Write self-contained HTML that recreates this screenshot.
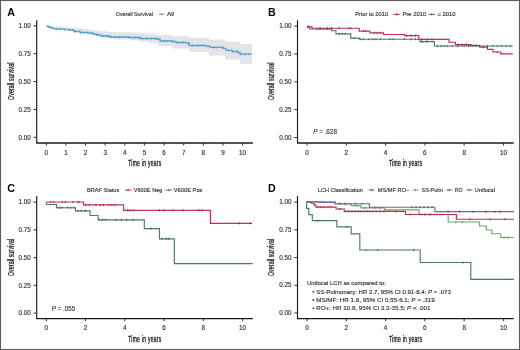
<!DOCTYPE html>
<html><head><meta charset="utf-8"><style>
html,body{margin:0;padding:0;background:#fff;}
body{width:520px;height:350px;overflow:hidden;}
svg{display:block;font-family:"Liberation Sans", sans-serif;will-change:transform;}
</style></head><body>
<svg width="520" height="350" viewBox="0 0 520 350">
<rect x="0" y="0" width="520" height="350" fill="#fff"/>
<path d="M46.3,25.8 H52 V26.3 H60 V26.8 H68 V27.6 H75 V28.3 H82 V29 H88 V29.8 H94 V30.6 H100 V31.3 H108 V31.9 H115 V32.3 H130 V32.8 H140 V33.2 H150 V33.7 H156 V34.7 H172 V36.2 H189 V37.8 H209 V39.6 H225 V41.7 H240 V43.9 H252.2 V43.9 L252.2,63.7 V63.7 H240 V59.6 H225 V55.5 H209 V52 H189 V48.4 H172 V45.9 H158 V43.3 H150 V41.8 H140 V40.5 H130 V39.5 H115 V38.8 H108 V37.8 H100 V36.2 H94 V34.5 H88 V33.2 H82 V32 H75 V31 H68 V30 H60 V29 H56 V27.5 H50 V25.8 H46.3 Z" fill="#e3e3e8"/>
<path d="M46.3,26 H48 V27 H50 V27.8 H53 V28.6 H56 V29.2 H64 V29.7 H70 V30.2 H74 V31.5 H80 V32.5 H88 V33 H93 V34 H97 V35 H101 V36 H110 V37 H129 V37.5 H140 V38.5 H157 V39 H160 V41 H172 V41.5 H176 V42.5 H186 V43 H189 V45.5 H206 V46.2 H210 V47.4 H223 V48.3 H226 V50.4 H232 V51.5 H238 V52.5 H240 V54.2 H252" fill="none" stroke="#55a5cf" stroke-width="1.3"/>
<path d="M49.0,26.00 V28.00 M52.3,26.80 V28.80 M56.7,28.20 V30.20 M60.5,28.20 V30.20 M65.1,28.70 V30.70 M69.8,28.70 V30.70 M72.6,29.20 V31.20 M75.1,30.50 V32.50 M80.5,31.50 V33.50 M84.0,31.50 V33.50 M87.3,31.50 V33.50 M93.3,33.00 V35.00 M97.4,34.00 V36.00 M102.8,35.00 V37.00 M107.0,35.00 V37.00 M111.7,36.00 V38.00 M114.8,36.00 V38.00 M119.5,36.00 V38.00 M125.0,36.00 V38.00 M129.4,36.50 V38.50 M134.4,36.50 V38.50 M139.3,36.50 V38.50 M142.0,37.50 V39.50 M147.2,37.50 V39.50 M151.7,37.50 V39.50 M155.3,37.50 V39.50 M157.9,38.00 V40.00 M163.4,40.00 V42.00 M167.6,40.00 V42.00 M172.6,40.50 V42.50 M178.2,41.50 V43.50 M183.2,41.50 V43.50 M188.9,42.00 V44.00 M192.8,44.50 V46.50 M198.1,44.50 V46.50 M202.1,44.50 V46.50 M207.9,45.20 V47.20 M213.5,46.40 V48.40 M216.3,46.40 V48.40 M219.3,46.40 V48.40 M222.6,46.40 V48.40 M228.5,49.40 V51.40 M232.5,50.50 V52.50 M237.2,50.50 V52.50 M240.7,53.20 V55.20 M245.0,53.20 V55.20 M248.9,53.20 V55.20" stroke="#4590bb" stroke-width="0.7" fill="none"/>
<g transform="translate(0,0)">
<text x="7.2" y="15.9" font-size="10.7" font-weight="bold" fill="#000">A</text>
<path d="M36.7,20.3 V143.0" fill="none" stroke="#1a1a1a" stroke-width="1.15"/>
<path d="M36.2,143.0 H252.9" fill="none" stroke="#1a1a1a" stroke-width="1.4"/>
<path d="M33.5,25.80 H36.7" stroke="#1a1a1a" stroke-width="0.9"/>
<text x="30.8" y="28.00" font-size="6.3" text-anchor="end" fill="#303030" stroke="#303030" stroke-width="0.14">1.00</text>
<path d="M33.5,53.68 H36.7" stroke="#1a1a1a" stroke-width="0.9"/>
<text x="30.8" y="55.88" font-size="6.3" text-anchor="end" fill="#303030" stroke="#303030" stroke-width="0.14">0.75</text>
<path d="M33.5,81.55 H36.7" stroke="#1a1a1a" stroke-width="0.9"/>
<text x="30.8" y="83.75" font-size="6.3" text-anchor="end" fill="#303030" stroke="#303030" stroke-width="0.14">0.50</text>
<path d="M33.5,109.43 H36.7" stroke="#1a1a1a" stroke-width="0.9"/>
<text x="30.8" y="111.63" font-size="6.3" text-anchor="end" fill="#303030" stroke="#303030" stroke-width="0.14">0.25</text>
<path d="M33.5,137.30 H36.7" stroke="#1a1a1a" stroke-width="0.9"/>
<text x="30.8" y="139.50" font-size="6.3" text-anchor="end" fill="#303030" stroke="#303030" stroke-width="0.14">0.00</text>
<path d="M46.30,143.0 V145.6" stroke="#1a1a1a" stroke-width="0.9"/>
<text x="46.30" y="154.8" font-size="6.3" text-anchor="middle" fill="#303030" stroke="#303030" stroke-width="0.14">0</text>
<path d="M65.93,143.0 V145.6" stroke="#1a1a1a" stroke-width="0.9"/>
<text x="65.93" y="154.8" font-size="6.3" text-anchor="middle" fill="#303030" stroke="#303030" stroke-width="0.14">1</text>
<path d="M85.56,143.0 V145.6" stroke="#1a1a1a" stroke-width="0.9"/>
<text x="85.56" y="154.8" font-size="6.3" text-anchor="middle" fill="#303030" stroke="#303030" stroke-width="0.14">2</text>
<path d="M105.19,143.0 V145.6" stroke="#1a1a1a" stroke-width="0.9"/>
<text x="105.19" y="154.8" font-size="6.3" text-anchor="middle" fill="#303030" stroke="#303030" stroke-width="0.14">3</text>
<path d="M124.82,143.0 V145.6" stroke="#1a1a1a" stroke-width="0.9"/>
<text x="124.82" y="154.8" font-size="6.3" text-anchor="middle" fill="#303030" stroke="#303030" stroke-width="0.14">4</text>
<path d="M144.45,143.0 V145.6" stroke="#1a1a1a" stroke-width="0.9"/>
<text x="144.45" y="154.8" font-size="6.3" text-anchor="middle" fill="#303030" stroke="#303030" stroke-width="0.14">5</text>
<path d="M164.08,143.0 V145.6" stroke="#1a1a1a" stroke-width="0.9"/>
<text x="164.08" y="154.8" font-size="6.3" text-anchor="middle" fill="#303030" stroke="#303030" stroke-width="0.14">6</text>
<path d="M183.71,143.0 V145.6" stroke="#1a1a1a" stroke-width="0.9"/>
<text x="183.71" y="154.8" font-size="6.3" text-anchor="middle" fill="#303030" stroke="#303030" stroke-width="0.14">7</text>
<path d="M203.34,143.0 V145.6" stroke="#1a1a1a" stroke-width="0.9"/>
<text x="203.34" y="154.8" font-size="6.3" text-anchor="middle" fill="#303030" stroke="#303030" stroke-width="0.14">8</text>
<path d="M222.97,143.0 V145.6" stroke="#1a1a1a" stroke-width="0.9"/>
<text x="222.97" y="154.8" font-size="6.3" text-anchor="middle" fill="#303030" stroke="#303030" stroke-width="0.14">9</text>
<path d="M242.60,143.0 V145.6" stroke="#1a1a1a" stroke-width="0.9"/>
<text x="242.60" y="154.8" font-size="6.3" text-anchor="middle" fill="#303030" stroke="#303030" stroke-width="0.14">10</text>
<text transform="translate(128.2,165.6) scale(0.6,1)" font-size="8.3" font-weight="normal" fill="#1a1a1a" stroke="#1a1a1a" stroke-width="0.32" textLength="55.00" lengthAdjust="spacing">Time in years</text>
<text transform="translate(13.5,99.9) rotate(-90) scale(0.62,1)" font-size="8.2" font-weight="normal" fill="#1a1a1a" stroke="#1a1a1a" stroke-width="0.32" textLength="60.00" lengthAdjust="spacing">Overall survival</text>
</g>
<text x="115.8" y="16" font-size="5.6" textLength="37.1" lengthAdjust="spacingAndGlyphs" fill="#303030" stroke="#303030" stroke-width="0.14" >Overall Survival</text>
<path d="M159,14.1 H164.5 M161.75,12.9 V15.299999999999999" stroke="#55a5cf" stroke-width="1"/>
<text x="167" y="16" font-size="5.6" textLength="7" lengthAdjust="spacingAndGlyphs" fill="#303030" stroke="#303030" stroke-width="0.14" >All</text>
<path d="M307.4,26.1 V27.5 H309.5 V29 H331.7 V30.7 H336 V33.9 H350.8 V38.1 H359.2 V39.2 H419.9 V41.6 H434.3 V46 H512.8" fill="none" stroke="#4b7a6c" stroke-width="1.15"/>
<path d="M307.4,26.1 H309 V26.8 H312 V28.2 H359.2 V31.1 H369.8 V32.8 H383.6 V34.5 H404.4 V35.6 H418.8 V39.4 H449 V42.2 H455.4 V44.6 H470.8 V45.3 H479.6 V47.1 H487.4 V49.3 H493 V52 H500.7 V53.8 H512.8" fill="none" stroke="#c22e5a" stroke-width="1.15"/>
<path d="M320.0,27.10 V29.30 M327.5,27.10 V29.30 M331.7,27.10 V29.30 M339.0,27.10 V29.30 M348.7,27.10 V29.30 M350.8,27.10 V29.30 M363.5,30.00 V32.20 M365.6,30.00 V32.20 M374.0,31.70 V33.90 M377.2,31.70 V33.90 M380.4,31.70 V33.90 M406.6,34.50 V36.70 M411.0,34.50 V36.70 M415.5,34.50 V36.70 M422.0,38.30 V40.50 M427.7,38.30 V40.50 M432.0,38.30 V40.50 M458.6,43.50 V45.70 M462.0,43.50 V45.70 M466.4,43.50 V45.70 M470.8,44.20 V46.40 M483.0,46.00 V48.20 M497.3,50.90 V53.10" stroke="#7a2a45" stroke-width="0.8" fill="none"/>
<path d="M317.0,27.90 V30.10 M320.0,27.90 V30.10 M323.3,27.90 V30.10 M326.4,27.90 V30.10 M329.6,27.90 V30.10 M339.0,32.80 V35.00 M342.3,32.80 V35.00 M345.5,32.80 V35.00 M354.0,37.00 V39.20 M360.3,38.10 V40.30 M363.5,38.10 V40.30 M368.8,38.10 V40.30 M373.0,38.10 V40.30 M376.0,38.10 V40.30 M380.4,38.10 V40.30 M390.0,38.10 V40.30 M393.0,38.10 V40.30 M404.4,38.10 V40.30 M411.0,38.10 V40.30 M415.5,38.10 V40.30 M422.0,40.50 V42.70 M426.5,40.50 V42.70 M437.6,44.90 V47.10 M441.0,44.90 V47.10 M444.2,44.90 V47.10 M447.6,44.90 V47.10 M452.0,44.90 V47.10 M457.5,44.90 V47.10 M464.2,44.90 V47.10 M468.6,44.90 V47.10 M473.0,44.90 V47.10 M476.3,44.90 V47.10 M487.4,44.90 V47.10 M493.0,44.90 V47.10 M497.3,44.90 V47.10 M501.8,44.90 V47.10 M506.2,44.90 V47.10 M510.6,44.90 V47.10" stroke="#33564c" stroke-width="0.8" fill="none"/>
<g transform="translate(260.8,0)">
<text x="7.2" y="15.7" font-size="10.7" font-weight="bold" fill="#000">B</text>
<path d="M36.7,20.3 V143.0" fill="none" stroke="#1a1a1a" stroke-width="1.15"/>
<path d="M36.2,143.0 H252.9" fill="none" stroke="#1a1a1a" stroke-width="1.4"/>
<path d="M33.5,26.10 H36.7" stroke="#1a1a1a" stroke-width="0.9"/>
<text x="30.8" y="28.30" font-size="6.3" text-anchor="end" fill="#303030" stroke="#303030" stroke-width="0.14">1.00</text>
<path d="M33.5,53.95 H36.7" stroke="#1a1a1a" stroke-width="0.9"/>
<text x="30.8" y="56.15" font-size="6.3" text-anchor="end" fill="#303030" stroke="#303030" stroke-width="0.14">0.75</text>
<path d="M33.5,81.80 H36.7" stroke="#1a1a1a" stroke-width="0.9"/>
<text x="30.8" y="84.00" font-size="6.3" text-anchor="end" fill="#303030" stroke="#303030" stroke-width="0.14">0.50</text>
<path d="M33.5,109.65 H36.7" stroke="#1a1a1a" stroke-width="0.9"/>
<text x="30.8" y="111.85" font-size="6.3" text-anchor="end" fill="#303030" stroke="#303030" stroke-width="0.14">0.25</text>
<path d="M33.5,137.50 H36.7" stroke="#1a1a1a" stroke-width="0.9"/>
<text x="30.8" y="139.70" font-size="6.3" text-anchor="end" fill="#303030" stroke="#303030" stroke-width="0.14">0.00</text>
<path d="M46.30,143.0 V145.6" stroke="#1a1a1a" stroke-width="0.9"/>
<text x="46.30" y="154.8" font-size="6.3" text-anchor="middle" fill="#303030" stroke="#303030" stroke-width="0.14">0</text>
<path d="M85.56,143.0 V145.6" stroke="#1a1a1a" stroke-width="0.9"/>
<text x="85.56" y="154.8" font-size="6.3" text-anchor="middle" fill="#303030" stroke="#303030" stroke-width="0.14">2</text>
<path d="M124.82,143.0 V145.6" stroke="#1a1a1a" stroke-width="0.9"/>
<text x="124.82" y="154.8" font-size="6.3" text-anchor="middle" fill="#303030" stroke="#303030" stroke-width="0.14">4</text>
<path d="M164.08,143.0 V145.6" stroke="#1a1a1a" stroke-width="0.9"/>
<text x="164.08" y="154.8" font-size="6.3" text-anchor="middle" fill="#303030" stroke="#303030" stroke-width="0.14">6</text>
<path d="M203.34,143.0 V145.6" stroke="#1a1a1a" stroke-width="0.9"/>
<text x="203.34" y="154.8" font-size="6.3" text-anchor="middle" fill="#303030" stroke="#303030" stroke-width="0.14">8</text>
<path d="M242.60,143.0 V145.6" stroke="#1a1a1a" stroke-width="0.9"/>
<text x="242.60" y="154.8" font-size="6.3" text-anchor="middle" fill="#303030" stroke="#303030" stroke-width="0.14">10</text>
<text transform="translate(128.2,165.6) scale(0.6,1)" font-size="8.3" font-weight="normal" fill="#1a1a1a" stroke="#1a1a1a" stroke-width="0.32" textLength="55.00" lengthAdjust="spacing">Time in years</text>
<text transform="translate(13.5,99.9) rotate(-90) scale(0.62,1)" font-size="8.2" font-weight="normal" fill="#1a1a1a" stroke="#1a1a1a" stroke-width="0.32" textLength="60.00" lengthAdjust="spacing">Overall survival</text>
</g>
<text x="355.3" y="16" font-size="5.6" textLength="32.8" lengthAdjust="spacingAndGlyphs" fill="#303030" stroke="#303030" stroke-width="0.14" >Prior to 2010</text>
<path d="M393.4,14.4 H399.7 M396.54999999999995,13.200000000000001 V15.6" stroke="#c22e5a" stroke-width="1"/>
<text x="402.5" y="16" font-size="5.6" textLength="23.7" lengthAdjust="spacingAndGlyphs" fill="#303030" stroke="#303030" stroke-width="0.14" >Pre 2010</text>
<path d="M428.4,14.4 H435.1 M431.75,13.200000000000001 V15.6" stroke="#4b7a6c" stroke-width="1"/>
<text x="437.6" y="16" font-size="5.6" textLength="3.4" lengthAdjust="spacingAndGlyphs" fill="#666" stroke="#666" stroke-width="0.14" >≥</text>
<text x="442.4" y="16" font-size="5.6" textLength="13.2" lengthAdjust="spacingAndGlyphs" fill="#303030" stroke="#303030" stroke-width="0.14" >2010</text>
<text x="313.2" y="134.1" font-size="6.3" textLength="23.7" lengthAdjust="spacingAndGlyphs" fill="#303030" stroke="#303030" stroke-width="0.14" ><tspan font-style="italic">P</tspan> = .628</text>
<path d="M46.3,202 V204.5 H56.5 V207.7 H75.5 V210.9 H90.1 V215.5 H98.2 V219.8 H144.3 V228.6 H159.5 V238.8 H174.3 V263.6 H252.8" fill="none" stroke="#4b7a6c" stroke-width="1.15"/>
<path d="M46.3,202 H83.4 V204.9 H123.6 V210.3 H210.4 V223.3 H252" fill="none" stroke="#c22e5a" stroke-width="1.15"/>
<path d="M50.6,200.90 V203.10 M53.8,200.90 V203.10 M62.2,200.90 V203.10 M65.4,200.90 V203.10 M72.8,200.90 V203.10 M78.1,200.90 V203.10 M79.1,200.90 V203.10 M85.5,203.80 V206.00 M89.7,203.80 V206.00 M96.0,203.80 V206.00 M100.3,203.80 V206.00 M103.5,203.80 V206.00 M108.8,203.80 V206.00 M111.9,203.80 V206.00 M115.1,203.80 V206.00 M127.8,209.20 V211.40 M129.9,209.20 V211.40 M133.1,209.20 V211.40 M159.5,209.20 V211.40 M164.3,209.20 V211.40 M172.7,209.20 V211.40 M183.1,209.20 V211.40 M198.6,209.20 V211.40 M202.0,209.20 V211.40 M239.6,222.20 V224.40 M250.6,222.20 V224.40" stroke="#7a2a45" stroke-width="0.8" fill="none"/>
<path d="M58.0,206.60 V208.80 M60.1,206.60 V208.80 M62.2,206.60 V208.80 M67.5,206.60 V208.80 M70.7,206.60 V208.80 M73.8,206.60 V208.80 M78.0,209.80 V212.00 M81.3,209.80 V212.00 M85.5,209.80 V212.00 M99.2,218.70 V220.90 M102.4,218.70 V220.90 M105.6,218.70 V220.90 M116.2,218.70 V220.90 M121.4,218.70 V220.90 M126.7,218.70 V220.90 M133.1,218.70 V220.90 M151.0,227.50 V229.70 M162.1,237.70 V239.90 M166.5,237.70 V239.90 M168.8,237.70 V239.90" stroke="#33564c" stroke-width="0.8" fill="none"/>
<g transform="translate(0,175.6)">
<text x="7.2" y="16.3" font-size="10.7" font-weight="bold" fill="#000">C</text>
<path d="M36.7,20.3 V143.0" fill="none" stroke="#1a1a1a" stroke-width="1.15"/>
<path d="M36.2,143.0 H252.9" fill="none" stroke="#1a1a1a" stroke-width="1.4"/>
<path d="M33.5,26.50 H36.7" stroke="#1a1a1a" stroke-width="0.9"/>
<text x="30.8" y="28.70" font-size="6.3" text-anchor="end" fill="#303030" stroke="#303030" stroke-width="0.14">1.00</text>
<path d="M33.5,54.25 H36.7" stroke="#1a1a1a" stroke-width="0.9"/>
<text x="30.8" y="56.45" font-size="6.3" text-anchor="end" fill="#303030" stroke="#303030" stroke-width="0.14">0.75</text>
<path d="M33.5,82.00 H36.7" stroke="#1a1a1a" stroke-width="0.9"/>
<text x="30.8" y="84.20" font-size="6.3" text-anchor="end" fill="#303030" stroke="#303030" stroke-width="0.14">0.50</text>
<path d="M33.5,109.75 H36.7" stroke="#1a1a1a" stroke-width="0.9"/>
<text x="30.8" y="111.95" font-size="6.3" text-anchor="end" fill="#303030" stroke="#303030" stroke-width="0.14">0.25</text>
<path d="M33.5,137.50 H36.7" stroke="#1a1a1a" stroke-width="0.9"/>
<text x="30.8" y="139.70" font-size="6.3" text-anchor="end" fill="#303030" stroke="#303030" stroke-width="0.14">0.00</text>
<path d="M46.30,143.0 V145.6" stroke="#1a1a1a" stroke-width="0.9"/>
<text x="46.30" y="154.8" font-size="6.3" text-anchor="middle" fill="#303030" stroke="#303030" stroke-width="0.14">0</text>
<path d="M85.56,143.0 V145.6" stroke="#1a1a1a" stroke-width="0.9"/>
<text x="85.56" y="154.8" font-size="6.3" text-anchor="middle" fill="#303030" stroke="#303030" stroke-width="0.14">2</text>
<path d="M124.82,143.0 V145.6" stroke="#1a1a1a" stroke-width="0.9"/>
<text x="124.82" y="154.8" font-size="6.3" text-anchor="middle" fill="#303030" stroke="#303030" stroke-width="0.14">4</text>
<path d="M164.08,143.0 V145.6" stroke="#1a1a1a" stroke-width="0.9"/>
<text x="164.08" y="154.8" font-size="6.3" text-anchor="middle" fill="#303030" stroke="#303030" stroke-width="0.14">6</text>
<path d="M203.34,143.0 V145.6" stroke="#1a1a1a" stroke-width="0.9"/>
<text x="203.34" y="154.8" font-size="6.3" text-anchor="middle" fill="#303030" stroke="#303030" stroke-width="0.14">8</text>
<path d="M242.60,143.0 V145.6" stroke="#1a1a1a" stroke-width="0.9"/>
<text x="242.60" y="154.8" font-size="6.3" text-anchor="middle" fill="#303030" stroke="#303030" stroke-width="0.14">10</text>
<text transform="translate(128.2,166.2) scale(0.6,1)" font-size="8.3" font-weight="normal" fill="#1a1a1a" stroke="#1a1a1a" stroke-width="0.32" textLength="55.00" lengthAdjust="spacing">Time in years</text>
<text transform="translate(13.5,100.4) rotate(-90) scale(0.62,1)" font-size="8.2" font-weight="normal" fill="#1a1a1a" stroke="#1a1a1a" stroke-width="0.32" textLength="60.00" lengthAdjust="spacing">Overall survival</text>
</g>
<text x="87" y="191.9" font-size="5.6" textLength="32.25" lengthAdjust="spacingAndGlyphs" fill="#303030" stroke="#303030" stroke-width="0.14" >BRAF Status</text>
<path d="M125,190.1 H131.25 M128.125,188.9 V191.29999999999998" stroke="#c22e5a" stroke-width="1"/>
<text x="133.75" y="191.9" font-size="5.6" textLength="28.75" lengthAdjust="spacingAndGlyphs" fill="#303030" stroke="#303030" stroke-width="0.14" >V600E Neg</text>
<path d="M165.5,190.1 H172 M168.75,188.9 V191.29999999999998" stroke="#4b7a6c" stroke-width="1"/>
<text x="173.75" y="191.9" font-size="5.6" textLength="28.75" lengthAdjust="spacingAndGlyphs" fill="#303030" stroke="#303030" stroke-width="0.14" >V600E Pos</text>
<text x="51.8" y="310.6" font-size="6.3" textLength="23.3" lengthAdjust="spacingAndGlyphs" fill="#303030" stroke="#303030" stroke-width="0.14" ><tspan font-style="italic">P</tspan> = .055</text>
<path d="M306.6,201.9 V208.3 H308.8 V214.6 H312.3 V220.6 H336.8 V226.9 H351.2 V233.8 H359.8 V250 H420.2 V262.5 H470.8 V279.4 H514" fill="none" stroke="#4b7a6c" stroke-width="1.15"/>
<path d="M306.6,201.9 H335.5 V204 H351.2 V205.6 H360.8 V207.9 H384.8 V209.8 H419 V214.5 H448.2 V222 H479.6 V226 H486.3 V230 H491.8 V233.7 H500.7 V237.5 H514" fill="none" stroke="#6aa86a" stroke-width="1.15"/>
<path d="M306.6,201.9 H311.5 V203.2 H314 V205.1 H315.9 V207.1 H336.1 V209 H344.2 V211.4 H405.5 V214.5 H456.4 V219.2 H514" fill="none" stroke="#c22e5a" stroke-width="1.15"/>
<path d="M306.6,201.9 H320 V202.5 H335 V203.7 H369.4 V207.2 H435 V211.6 H514" fill="none" stroke="#7a6890" stroke-width="1.15"/>
<path d="M318.0,206.00 V208.20 M321.0,206.00 V208.20 M324.0,206.00 V208.20 M328.0,206.00 V208.20 M331.0,206.00 V208.20 M339.0,207.90 V210.10 M341.0,207.90 V210.10 M346.0,210.30 V212.50 M349.0,210.30 V212.50 M352.0,210.30 V212.50 M355.0,210.30 V212.50 M358.0,210.30 V212.50 M361.0,210.30 V212.50 M364.0,210.30 V212.50 M367.0,210.30 V212.50 M370.0,210.30 V212.50 M373.0,210.30 V212.50 M376.0,210.30 V212.50 M380.0,210.30 V212.50 M384.0,210.30 V212.50 M396.0,210.30 V212.50 M410.0,213.40 V215.60 M425.0,213.40 V215.60 M430.0,213.40 V215.60 M470.0,218.10 V220.30 M490.0,218.10 V220.30 M505.0,218.10 V220.30" stroke="#7a2a45" stroke-width="0.8" fill="none"/>
<path d="M340.0,202.60 V204.80 M345.0,202.60 V204.80 M355.0,202.60 V204.80 M362.0,202.60 V204.80 M412.0,206.10 V208.30 M416.0,206.10 V208.30 M420.0,206.10 V208.30 M424.0,206.10 V208.30 M428.0,206.10 V208.30 M432.0,206.10 V208.30 M448.0,210.50 V212.70 M460.0,210.50 V212.70 M473.0,210.50 V212.70 M486.0,210.50 V212.70 M495.0,210.50 V212.70 M500.0,210.50 V212.70" stroke="#4a3a5a" stroke-width="0.8" fill="none"/>
<path d="M323.0,200.80 V203.00 M330.0,200.80 V203.00 M345.0,202.90 V205.10 M357.0,204.50 V206.70 M365.0,206.80 V209.00 M375.0,206.80 V209.00 M380.0,206.80 V209.00 M420.0,213.40 V215.60 M422.0,213.40 V215.60 M425.0,213.40 V215.60 M428.0,213.40 V215.60 M431.0,213.40 V215.60 M434.0,213.40 V215.60 M437.0,213.40 V215.60 M440.0,213.40 V215.60 M443.0,213.40 V215.60 M456.0,220.90 V223.10 M462.0,220.90 V223.10 M504.0,236.40 V238.60 M508.0,236.40 V238.60" stroke="#4a7a4a" stroke-width="0.8" fill="none"/>
<path d="M318.0,219.50 V221.70 M346.9,225.80 V228.00 M366.2,248.90 V251.10 M377.7,248.90 V251.10 M413.7,248.90 V251.10 M463.0,261.40 V263.60" stroke="#33564c" stroke-width="0.8" fill="none"/>
<g transform="translate(260.8,175.6)">
<text x="7.2" y="16.4" font-size="10.7" font-weight="bold" fill="#000">D</text>
<path d="M36.7,20.3 V143.0" fill="none" stroke="#1a1a1a" stroke-width="1.15"/>
<path d="M36.2,143.0 H252.9" fill="none" stroke="#1a1a1a" stroke-width="1.4"/>
<path d="M33.5,26.50 H36.7" stroke="#1a1a1a" stroke-width="0.9"/>
<text x="30.8" y="28.70" font-size="6.3" text-anchor="end" fill="#303030" stroke="#303030" stroke-width="0.14">1.00</text>
<path d="M33.5,54.23 H36.7" stroke="#1a1a1a" stroke-width="0.9"/>
<text x="30.8" y="56.43" font-size="6.3" text-anchor="end" fill="#303030" stroke="#303030" stroke-width="0.14">0.75</text>
<path d="M33.5,81.95 H36.7" stroke="#1a1a1a" stroke-width="0.9"/>
<text x="30.8" y="84.15" font-size="6.3" text-anchor="end" fill="#303030" stroke="#303030" stroke-width="0.14">0.50</text>
<path d="M33.5,109.68 H36.7" stroke="#1a1a1a" stroke-width="0.9"/>
<text x="30.8" y="111.88" font-size="6.3" text-anchor="end" fill="#303030" stroke="#303030" stroke-width="0.14">0.25</text>
<path d="M33.5,137.40 H36.7" stroke="#1a1a1a" stroke-width="0.9"/>
<text x="30.8" y="139.60" font-size="6.3" text-anchor="end" fill="#303030" stroke="#303030" stroke-width="0.14">0.00</text>
<path d="M46.30,143.0 V145.6" stroke="#1a1a1a" stroke-width="0.9"/>
<text x="46.30" y="154.8" font-size="6.3" text-anchor="middle" fill="#303030" stroke="#303030" stroke-width="0.14">0</text>
<path d="M85.56,143.0 V145.6" stroke="#1a1a1a" stroke-width="0.9"/>
<text x="85.56" y="154.8" font-size="6.3" text-anchor="middle" fill="#303030" stroke="#303030" stroke-width="0.14">2</text>
<path d="M124.82,143.0 V145.6" stroke="#1a1a1a" stroke-width="0.9"/>
<text x="124.82" y="154.8" font-size="6.3" text-anchor="middle" fill="#303030" stroke="#303030" stroke-width="0.14">4</text>
<path d="M164.08,143.0 V145.6" stroke="#1a1a1a" stroke-width="0.9"/>
<text x="164.08" y="154.8" font-size="6.3" text-anchor="middle" fill="#303030" stroke="#303030" stroke-width="0.14">6</text>
<path d="M203.34,143.0 V145.6" stroke="#1a1a1a" stroke-width="0.9"/>
<text x="203.34" y="154.8" font-size="6.3" text-anchor="middle" fill="#303030" stroke="#303030" stroke-width="0.14">8</text>
<path d="M242.60,143.0 V145.6" stroke="#1a1a1a" stroke-width="0.9"/>
<text x="242.60" y="154.8" font-size="6.3" text-anchor="middle" fill="#303030" stroke="#303030" stroke-width="0.14">10</text>
<text transform="translate(128.2,166.2) scale(0.6,1)" font-size="8.3" font-weight="normal" fill="#1a1a1a" stroke="#1a1a1a" stroke-width="0.32" textLength="55.00" lengthAdjust="spacing">Time in years</text>
<text transform="translate(13.5,100.4) rotate(-90) scale(0.62,1)" font-size="8.2" font-weight="normal" fill="#1a1a1a" stroke="#1a1a1a" stroke-width="0.32" textLength="60.00" lengthAdjust="spacing">Overall survival</text>
</g>
<text x="318" y="191.7" font-size="5.6" textLength="44.9" lengthAdjust="spacingAndGlyphs" fill="#303030" stroke="#303030" stroke-width="0.14" >LCH Classification</text>
<path d="M368.8,190 H374.5 M371.65,188.8 V191.2" stroke="#c22e5a" stroke-width="1"/>
<text x="377.7" y="191.7" font-size="5.6" textLength="31.7" lengthAdjust="spacingAndGlyphs" fill="#303030" stroke="#303030" stroke-width="0.14" >MS/MF RO−</text>
<path d="M412.6,190 H418.5 M415.55,188.8 V191.2" stroke="#6aa86a" stroke-width="1"/>
<text x="421.5" y="191.7" font-size="5.6" textLength="21.6" lengthAdjust="spacingAndGlyphs" fill="#303030" stroke="#303030" stroke-width="0.14" >SS-Pulm</text>
<path d="M446.3,190 H452 M449.15,188.8 V191.2" stroke="#4b7a6c" stroke-width="1"/>
<text x="454.7" y="191.7" font-size="5.6" textLength="7.8" lengthAdjust="spacingAndGlyphs" fill="#303030" stroke="#303030" stroke-width="0.14" >RO</text>
<path d="M466.3,190 H472.3 M469.3,188.8 V191.2" stroke="#7a6890" stroke-width="1"/>
<text x="474.8" y="191.7" font-size="5.6" textLength="20.1" lengthAdjust="spacingAndGlyphs" fill="#303030" stroke="#303030" stroke-width="0.14" >Unifocal</text>
<text x="307" y="284.9" font-size="6.05" textLength="78.8" lengthAdjust="spacingAndGlyphs" fill="#303030" stroke="#303030" stroke-width="0.14" >Unifocal LCH as compared to:</text>
<circle cx="313.4" cy="291.7" r="0.9" fill="#303030"/>
<text x="316.2" y="293.7" font-size="6.05" textLength="134.6" lengthAdjust="spacingAndGlyphs" fill="#303030" stroke="#303030" stroke-width="0.14" >SS-Pulmonary: HR 2.7, 95% CI 0.91-8.4; <tspan font-style="italic">P</tspan> = .073</text>
<circle cx="313.4" cy="300.0" r="0.9" fill="#303030"/>
<text x="316.2" y="302.0" font-size="6.05" textLength="118.6" lengthAdjust="spacingAndGlyphs" fill="#303030" stroke="#303030" stroke-width="0.14" >MS/MF: HR 1.8, 95% CI 0.55-6.1; <tspan font-style="italic">P</tspan> = .319</text>
<circle cx="313.4" cy="308.3" r="0.9" fill="#303030"/>
<text x="316.2" y="310.3" font-size="6.05" textLength="114.2" lengthAdjust="spacingAndGlyphs" fill="#303030" stroke="#303030" stroke-width="0.14" >RO+: HR 10.8, 95% CI 3.3-35.5; <tspan font-style="italic">P</tspan> &lt; .001</text>
<rect x="0.5" y="0.5" width="519" height="349" fill="none" stroke="#5c5c5c" stroke-width="1.1"/>
</svg></body></html>
